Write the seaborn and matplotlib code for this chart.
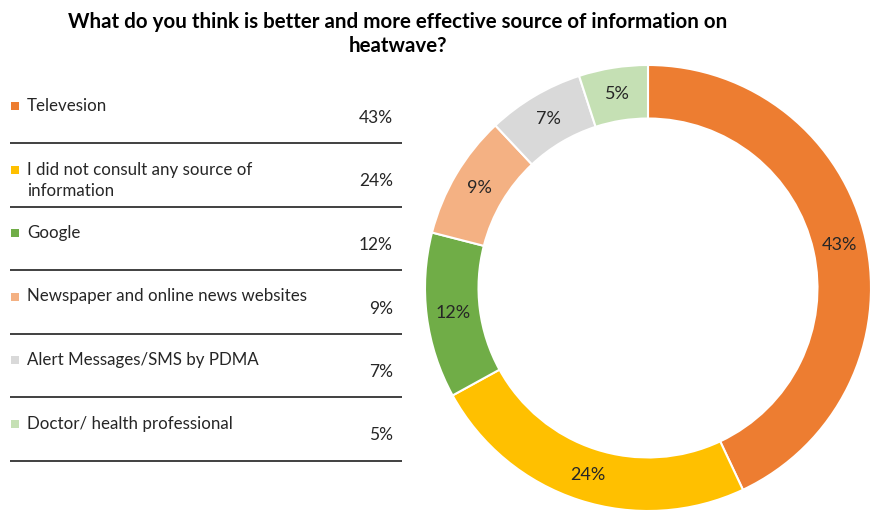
import matplotlib
matplotlib.use("Agg")
import matplotlib.pyplot as plt
import seaborn as sns

# Survey answers and their shares (percent)
sources = [
    "Televesion",
    "I did not consult any source of\ninformation",
    "Google",
    "Newspaper and online news websites",
    "Alert Messages/SMS by PDMA",
    "Doctor/ health professional",
]
shares = [43, 24, 12, 9, 7, 5]
slice_colors = ["#ED7D31", "#FFC000", "#70AD47", "#F4B183", "#D9D9D9", "#C5E0B4"]
title = "What do you think is better and more effective source of information on\nheatwave?"

sns.set_theme(style="white")
plt.rcParams["font.family"] = ["Lato", "DejaVu Sans"]

W, H = 877, 513
fig = plt.figure(figsize=(W / 100, H / 100), dpi=100)
palette = sns.color_palette(slice_colors)
text_color = "#262626"

# Full-figure axes in pixel units for the legend table and title
bg = fig.add_axes([0, 0, 1, 1])
bg.set_xlim(0, W)
bg.set_ylim(H, 0)
bg.axis("off")

bg.text(398, 34, title, ha="center", va="center", fontsize=14.8, fontweight="bold",
        color="black", linespacing=1.27)

row_top = 106
pitch = 63.5
line_gap = 22
for i, (name, val) in enumerate(zip(sources, shares)):
    y = row_top + i * pitch
    bg.scatter([15], [y], marker="s", s=28, color=palette[i], linewidths=0)
    for k, part in enumerate(name.split("\n")):
        bg.text(27, y + k * line_gap, part, ha="left", va="center",
                fontsize=12.2, color=text_color)
    bg.text(393, y + 12, f"{val}%", ha="right", va="center", fontsize=12.5, color=text_color)
    bg.plot([10, 402], [y + 37, y + 37], color="#404040", lw=1.4, solid_capstyle="butt")

# Donut chart
cx, cy, r = 648, 288, 223
ax = fig.add_axes([(cx - r) / W, (H - cy - r) / H, 2 * r / W, 2 * r / H])
ax.pie(
    shares,
    colors=palette,
    startangle=90,
    counterclock=False,
    radius=1.0,
    pctdistance=0.88,
    autopct=lambda p: f"{p:.0f}%",
    wedgeprops=dict(width=0.24, edgecolor="white", linewidth=1.5),
    textprops=dict(fontsize=13, color=text_color),
)
ax.set_xlim(-1, 1)
ax.set_ylim(-1, 1)
ax.set_aspect("equal")
ax.axis("off")

fig.savefig("out.png", dpi=100)
